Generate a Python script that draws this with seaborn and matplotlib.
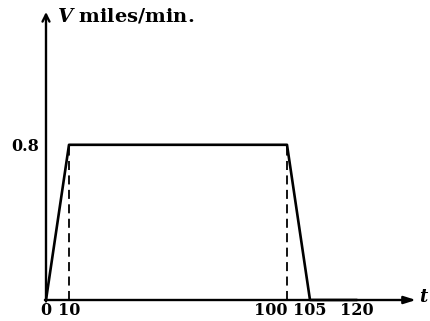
import numpy as np
import matplotlib
matplotlib.use("Agg")
import matplotlib.pyplot as plt
import seaborn as sns
import pandas as pd

# --- data: speed profile of the train (miles/min vs minutes) ---
t_points = [0, 10, 100, 105, 120]
v_points = [0, 0.8, 0.8, 0, 0]
dashed_at = [10, 100]
plateau = 0.8
x_ticks = [0, 10, 100, 105, 120]
x_ticklabels = ["0", "10", "100", "105", "120"]
y_ticks = [0.8]
y_ticklabels = ["0.8"]

df = pd.DataFrame({"t": t_points, "V": v_points})

sns.set_style("white")
plt.rcParams["font.family"] = ["DejaVu Serif"]
plt.rcParams["font.weight"] = "bold"
plt.rcParams["text.color"] = "black"
plt.rcParams["mathtext.fontset"] = "custom"
plt.rcParams["mathtext.rm"] = "DejaVu Serif:bold"
plt.rcParams["mathtext.it"] = "DejaVu Serif:italic:bold"

fig = plt.figure(figsize=(4.3, 3.21), dpi=100)
ax = fig.add_axes([46 / 430, 21 / 321, (416 - 46) / 430, (300 - 12) / 321])

# the original drawing is not to scale along t, so use a piecewise scale
brk_t = [0, 10, 100, 105, 120, 140]
brk_px = [0, 23, 241, 264, 311, 370]
fwd = lambda x: np.interp(x, brk_t, brk_px)
inv = lambda x: np.interp(x, brk_px, brk_t)
ax.set_xscale("function", functions=(fwd, inv))
ax.set_xlim(0, 140)
ax.set_ylim(0, 288 / 194)

sns.lineplot(data=df, x="t", y="V", ax=ax, color="black", linewidth=1.9,
             sort=False, clip_on=False)
for xd in dashed_at:
    ax.plot([xd, xd], [0, plateau], color="black", linewidth=1.3,
            dashes=(5, 3), clip_on=False)

for s in ax.spines.values():
    s.set_visible(False)

# axes drawn as arrows
ax.annotate("", xy=(0, 1), xycoords="axes fraction", xytext=(0, -0.005),
            arrowprops=dict(arrowstyle="->,head_length=0.5,head_width=0.25",
                            color="black", lw=1.7, shrinkA=0, shrinkB=0))
ax.annotate("", xy=(1, 0), xycoords="axes fraction", xytext=(-0.003, 0),
            arrowprops=dict(arrowstyle="-|>,head_length=0.7,head_width=0.22",
                            color="black", lw=1.7, shrinkA=0, shrinkB=0))

ax.set_xticks(x_ticks, x_ticklabels)
ax.set_yticks(y_ticks, y_ticklabels)
ax.tick_params(direction="in", length=5, width=1.2, labelsize=11.5, pad=1.5,
               colors="black")
ax.tick_params(axis="y", pad=5)
ax.xaxis.get_major_ticks()[3].tick1line.set_visible(False)
ax.get_xticklabels()[2].set_ha("right")
ax.set_xlabel("")
ax.set_ylabel("")

ax.text(1.008, 0.01, "$t$", transform=ax.transAxes, fontsize=13,
        ha="left", va="center")
ax.text(0.03, 0.985, "$V$ miles/min.", transform=ax.transAxes, fontsize=14,
        ha="left", va="center")

fig.savefig("out.png", dpi=100)
